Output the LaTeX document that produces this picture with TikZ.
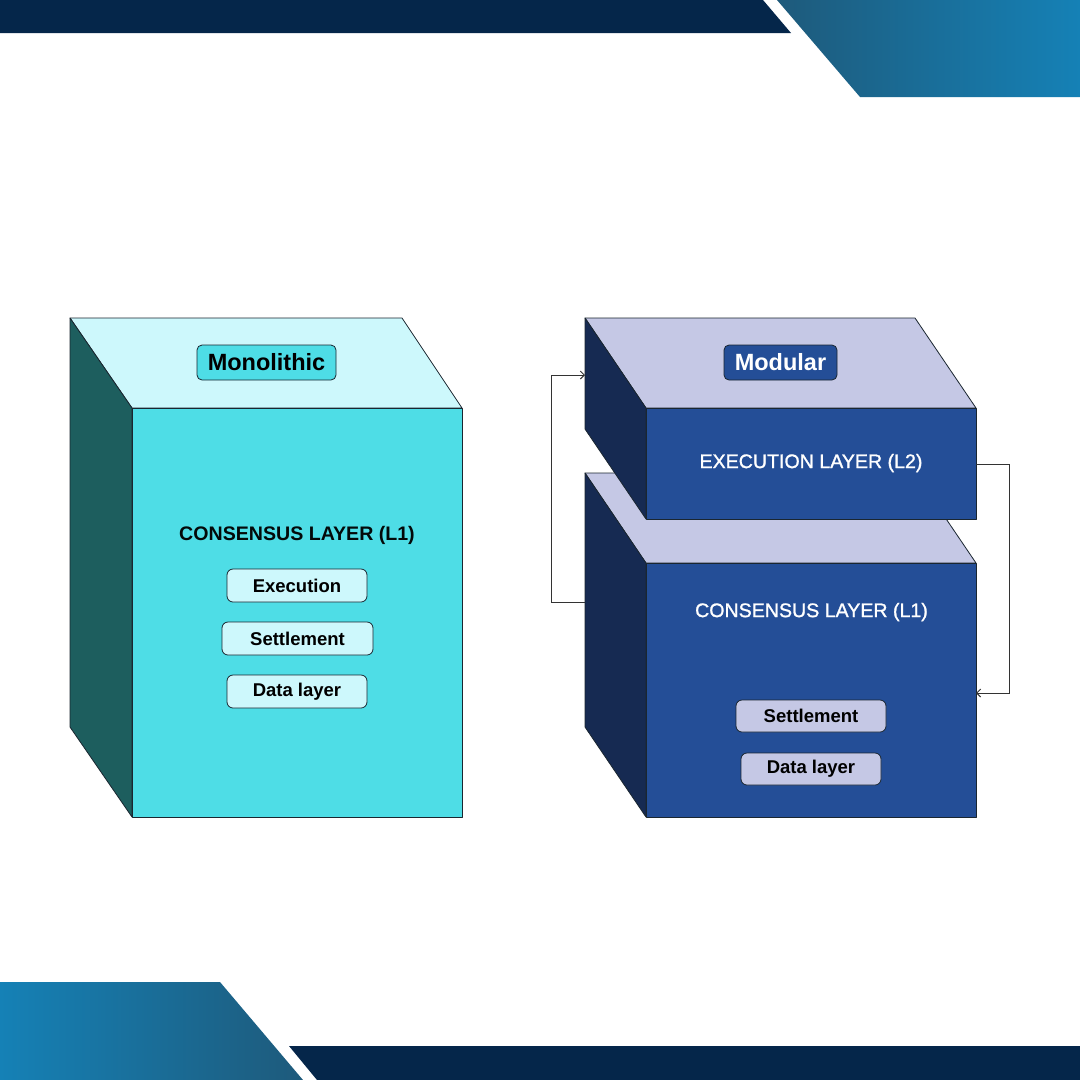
\documentclass[tikz,border=0pt]{standalone}
\usepackage{fontspec}
\setmainfont{Liberation Sans}
\newfontfamily\medfont[FakeBold=1.2]{Liberation Sans}
\usetikzlibrary{arrows.meta}
\definecolor{navy}{HTML}{05264A}
\definecolor{gdark}{HTML}{1E5A7B}
\definecolor{glight}{HTML}{1691C1}
\definecolor{gmid}{HTML}{1581B6}
\definecolor{cytop}{HTML}{CDF8FC}
\definecolor{cyfront}{HTML}{4EDDE6}
\definecolor{cyside}{HTML}{1D5E5E}
\definecolor{lvtop}{HTML}{C5C8E5}
\definecolor{bufront}{HTML}{244E97}
\definecolor{buside}{HTML}{162A52}
\definecolor{edge}{HTML}{1A2630}
\tikzset{
  face/.style={draw=edge, line width=0.8pt, line join=round},
  pill/.style={draw=edge, line width=0.8pt, rounded corners=6pt, inner sep=0pt,
    minimum height=33pt, font=\fontsize{18.5}{20}\selectfont\bfseries, text=black},
  title/.style={draw=edge, line width=0.8pt, rounded corners=5pt, inner sep=0pt,
    minimum height=35pt, font=\fontsize{23.5}{25}\selectfont\bfseries},
  head/.style={inner sep=0pt, font=\fontsize{19.6}{21}\selectfont},
  link/.style={draw=black!80, line width=1pt, -{Straight Barb[length=4pt,width=8pt]}},
}
\begin{document}
\begin{tikzpicture}[x=1pt,y=-1pt]
\useasboundingbox (0,0) rectangle (1080,1080);
\fill[white] (0,0) rectangle (1080,1080);
% banners
\fill[navy] (0,0) -- (763,0) -- (791,33) -- (0,33) -- cycle;
\shade[left color=gdark, middle color=glight, right color=gmid] (777,0) -- (1080,0) -- (1080,97) -- (860,97) -- cycle;
\shade[left color=gmid, middle color=glight, right color=gdark] (0,982) -- (220,982) -- (303,1080) -- (0,1080) -- cycle;
\fill[navy] (289,1046) -- (1080,1046) -- (1080,1080) -- (317,1080) -- cycle;

% ---- Monolithic block ----
\filldraw[face, fill=cytop] (70,318) -- (402,318) -- (462,408) -- (132,408) -- cycle;
\filldraw[face, fill=cyside] (70,318) -- (132,408) -- (132,817) -- (70,727) -- cycle;
\filldraw[face, fill=cyfront] (132,408) rectangle (462,817);
\node[title, fill=cyfront, minimum width=139pt, text=black] (mono) at (266.5,362.5) {Monolithic};
\node[head, text=black!90!cyside] (monocl) at (297,535) {\bfseries CONSENSUS LAYER (L1)};
\node[pill, fill=cytop, minimum width=140pt] (mexec) at (297,585.5) {Execution};
\node[pill, fill=cytop, minimum width=151pt] (msett) at (297.5,638.5) {Settlement};
\node[pill, fill=cytop, minimum width=140pt] (mdata) at (297,691.5) {Data layer};

% ---- Modular: lower block (L1) ----
\filldraw[face, fill=lvtop] (585,473) -- (915,473) -- (976,563) -- (646,563) -- cycle;
\filldraw[face, fill=buside] (585,473) -- (646,563) -- (646,817) -- (585,727) -- cycle;
\filldraw[face, fill=bufront] (646,563) rectangle (976,817);
% ---- Modular: upper block (L2) ----
\filldraw[face, fill=lvtop] (585,318) -- (915,318) -- (976,408) -- (646,408) -- cycle;
\filldraw[face, fill=buside] (585,318) -- (646,408) -- (646,519) -- (585,429) -- cycle;
\filldraw[face, fill=bufront] (646,408) rectangle (976,519);

\node[title, fill=bufront, minimum width=113pt, text=white] (modu) at (780.5,362.5) {Modular};
\node[head, text=white] (l2) at (811,463) {\medfont EXECUTION LAYER (L2)};
\node[head, text=white] (l1) at (811.5,612) {\medfont CONSENSUS LAYER (L1)};
\node[pill, fill=lvtop, minimum width=150pt, minimum height=32pt] (rsett) at (811,716) {Settlement};
\node[pill, fill=lvtop, minimum width=140pt, minimum height=32pt] (rdata) at (811,769) {Data layer};

% connectors
\coordinate (l1west) at (585,602);
\coordinate (l2west) at (585,375);
\coordinate (l2east) at (976,464);
\coordinate (l1east) at (976,693);
\draw[link] (l1west) -- (551,602) |- (l2west);
\draw[link] (l2east) -- (1009,464) |- (l1east);
\end{tikzpicture}
\end{document}
